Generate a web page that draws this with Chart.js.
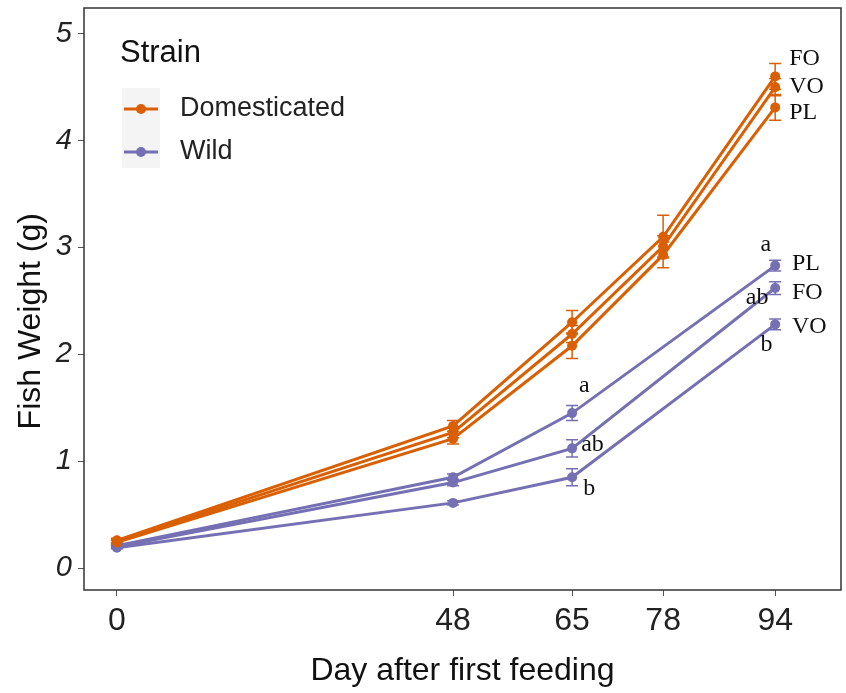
<!DOCTYPE html>
<html>
<head>
<meta charset="utf-8">
<script src="https://cdn.jsdelivr.net/npm/chart.js@4.4.1/dist/chart.umd.min.js"></script>
<style>
  html, body { margin: 0; padding: 0; background: #fff; }
  #wrap { width: 846px; height: 693px; }
</style>
</head>
<body>
<div id="wrap"><canvas id="chart" width="846" height="693"></canvas></div>
<script>
// sampling days
const days = [0, 48, 65, 78, 94];
const wildDays = [0, 48, 65, 94];
const xTicks = [0, 48, 65, 78, 94];
const yTicks = [0, 1, 2, 3, 4, 5];

// domesticated strain: mean weight (g) and SE per diet
const domFO = [0.26, 1.33, 2.30, 3.10, 4.60];
const domVO = [0.25, 1.27, 2.19, 3.01, 4.50];
const domPL = [0.24, 1.21, 2.08, 2.93, 4.31];
const domFOse = [0.02, 0.05, 0.11, 0.20, 0.12];
const domVOse = [0.02, 0.05, 0.08, 0.10, 0.08];
const domPLse = [0.02, 0.05, 0.12, 0.12, 0.12];

// wild strain (no day 78 sample)
const wildPL = [0.21, 0.85, 1.45, 2.83];
const wildFO = [0.20, 0.80, 1.12, 2.62];
const wildVO = [0.19, 0.61, 0.85, 2.28];
const wildPLse = [0.01, 0.03, 0.07, 0.05];
const wildFOse = [0.01, 0.03, 0.08, 0.06];
const wildVOse = [0.01, 0.02, 0.08, 0.05];

const strains = ['Domesticated', 'Wild'];

// diet / significance labels, in data units
const notes = [
  { text: 'FO', x: 96.0, y: 4.77 },
  { text: 'VO', x: 96.0, y: 4.50 },
  { text: 'PL', x: 96.0, y: 4.26 },
  { text: 'PL', x: 96.4, y: 2.85 },
  { text: 'FO', x: 96.4, y: 2.58 },
  { text: 'VO', x: 96.4, y: 2.26 },
  { text: 'a', x: 91.9, y: 3.03 },
  { text: 'ab', x: 89.8, y: 2.53 },
  { text: 'b', x: 91.9, y: 2.09 },
  { text: 'a', x: 66.0, y: 1.71 },
  { text: 'ab', x: 66.3, y: 1.15 },
  { text: 'b', x: 66.6, y: 0.74 }
];

const ORANGE = '#D95F02';
const PURPLE = '#7570B3';

function series(label, xs, ys, se, color) {
  return {
    label: label,
    data: xs.map((d, i) => ({ x: d, y: ys[i] })),
    se: se,
    borderColor: color,
    backgroundColor: color,
    borderWidth: 3,
    pointRadius: 5,
    pointBorderWidth: 0,
    showLine: true,
    tension: 0
  };
}

const datasets = [
  series('Domesticated FO', days, domFO, domFOse, ORANGE),
  series('Domesticated VO', days, domVO, domVOse, ORANGE),
  series('Domesticated PL', days, domPL, domPLse, ORANGE),
  series('Wild PL', wildDays, wildPL, wildPLse, PURPLE),
  series('Wild FO', wildDays, wildFO, wildFOse, PURPLE),
  series('Wild VO', wildDays, wildVO, wildVOse, PURPLE)
];

// error bars under the points
const errorBars = {
  id: 'errorBars',
  beforeDatasetsDraw(chart) {
    const ctx = chart.ctx;
    const y = chart.scales.y;
    ctx.save();
    chart.data.datasets.forEach((ds, di) => {
      const meta = chart.getDatasetMeta(di);
      ctx.strokeStyle = ds.borderColor;
      ctx.lineWidth = 1.5;
      meta.data.forEach((pt, i) => {
        const v = ds.data[i].y;
        const top = y.getPixelForValue(v + ds.se[i]);
        const bot = y.getPixelForValue(v - ds.se[i]);
        ctx.beginPath();
        ctx.moveTo(pt.x, top); ctx.lineTo(pt.x, bot);
        ctx.moveTo(pt.x - 6, top); ctx.lineTo(pt.x + 6, top);
        ctx.moveTo(pt.x - 6, bot); ctx.lineTo(pt.x + 6, bot);
        ctx.stroke();
      });
    });
    ctx.restore();
  }
};

// panel border, text labels and legend
const decorations = {
  id: 'decorations',
  afterDraw(chart) {
    const ctx = chart.ctx;
    const a = chart.chartArea;
    const xs = chart.scales.x, ys = chart.scales.y;
    ctx.save();
    ctx.strokeStyle = '#333';
    ctx.lineWidth = 1.5;
    ctx.strokeRect(a.left, a.top, a.right - a.left, a.bottom - a.top);

    ctx.fillStyle = '#111';
    ctx.font = '24px "Liberation Serif", serif';
    ctx.textBaseline = 'middle';
    ctx.textAlign = 'left';
    notes.forEach(n => {
      ctx.fillText(n.text, xs.getPixelForValue(n.x), ys.getPixelForValue(n.y));
    });

    // legend
    ctx.font = '31px "Liberation Sans", Arial, sans-serif';
    ctx.fillStyle = '#111';
    ctx.fillText('Strain', 120, 53);
    ctx.fillStyle = '#f4f4f4';
    ctx.fillRect(122, 88, 38, 80);
    const colors = [ORANGE, PURPLE];
    strains.forEach((s, i) => {
      const cy = 109 + i * 43;
      ctx.strokeStyle = colors[i];
      ctx.lineWidth = 3;
      ctx.beginPath();
      ctx.moveTo(124, cy); ctx.lineTo(158, cy);
      ctx.stroke();
      ctx.fillStyle = colors[i];
      ctx.beginPath();
      ctx.arc(141, cy, 5, 0, Math.PI * 2);
      ctx.fill();
      ctx.fillStyle = '#222';
      ctx.font = '27px "Liberation Sans", Arial, sans-serif';
      ctx.fillText(s, 180, cy);
    });
    ctx.restore();
  }
};

new Chart(document.getElementById('chart'), {
  type: 'scatter',
  data: { datasets: datasets },
  plugins: [errorBars, decorations],
  options: {
    responsive: false,
    animation: false,
    layout: { padding: { top: 8, right: 2, left: 0, bottom: 0 } },
    plugins: {
      legend: { display: false },
      tooltip: { enabled: false }
    },
    scales: {
      x: {
        type: 'linear',
        min: -4.7,
        max: 103.4,
        afterBuildTicks: s => { s.ticks = xTicks.map(v => ({ value: v })); },
        afterFit: s => { s.height = 103; s.paddingLeft = 0; s.paddingRight = 0; },
        grid: { drawOnChartArea: false, drawTicks: true, tickLength: 6, tickColor: '#555' },
        border: { display: false },
        ticks: {
          color: '#222',
          padding: 6,
          font: { family: '"Liberation Sans", Arial, sans-serif', size: 32 }
        },
        title: {
          display: true,
          text: 'Day after first feeding',
          color: '#111',
          padding: { top: 0, bottom: 3 },
          font: { family: '"Liberation Sans", Arial, sans-serif', size: 32 }
        }
      },
      y: {
        type: 'linear',
        min: -0.205,
        max: 5.24,
        afterBuildTicks: s => { s.ticks = yTicks.map(v => ({ value: v })); },
        afterFit: s => { s.width = 84; s.paddingTop = 0; s.paddingBottom = 0; },
        grid: { drawOnChartArea: false, drawTicks: true, tickLength: 6, tickColor: '#555' },
        border: { display: false },
        ticks: {
          color: '#222',
          padding: 6,
          font: { family: '"Liberation Sans", Arial, sans-serif', size: 29, style: 'italic' }
        },
        title: {
          display: true,
          // trailing spaces nudge the rotated title down to sit as in the original
          text: 'Fish Weight (g)     ',
          color: '#111',
          padding: { top: 12, bottom: 0 },
          font: { family: '"Liberation Sans", Arial, sans-serif', size: 32 }
        }
      }
    }
  }
});
</script>
</body>
</html>
